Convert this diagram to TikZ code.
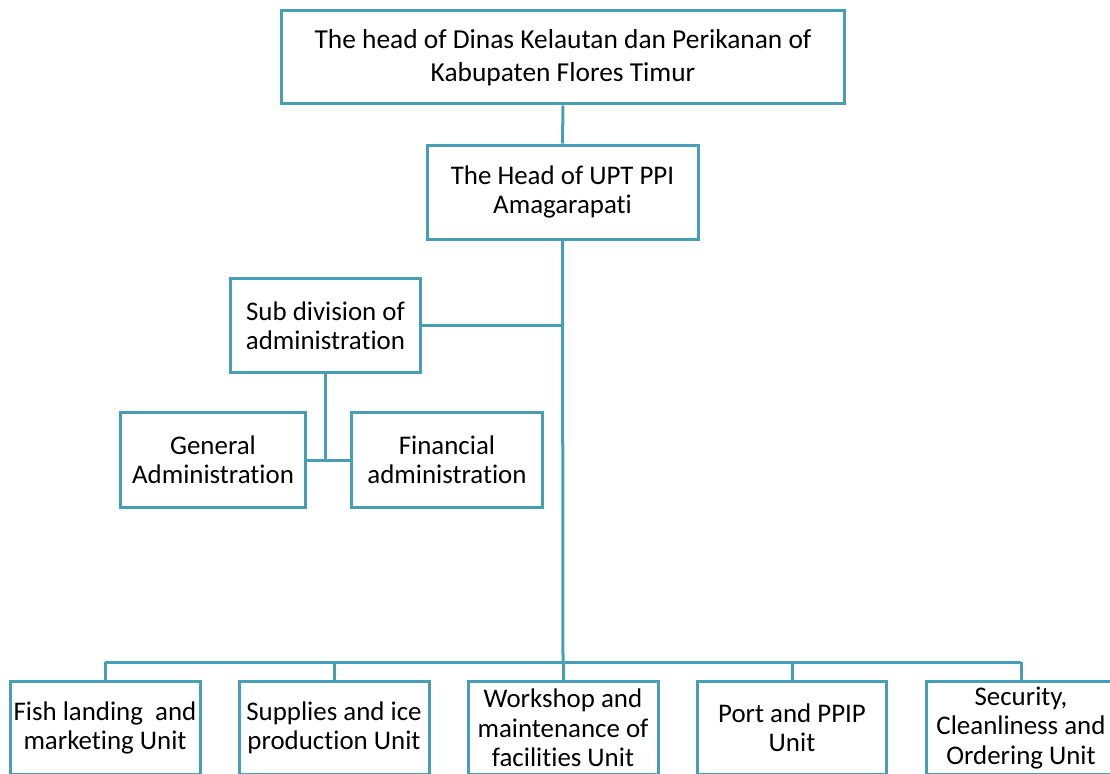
\documentclass[tikz,border=0pt]{standalone}
\usepackage{fontspec}
\setmainfont{Carlito}[Ligatures=NoCommon]
\definecolor{teal1}{RGB}{72,158,181}
\begin{document}
\begin{tikzpicture}[x=1pt,y=-1pt,
  box/.style={draw=teal1,line width=3pt,fill=white,align=center,inner sep=0pt,
    font=\fontsize{26.9}{29.3}\selectfont,text=black},
  conn/.style={draw=teal1,line width=3pt}]
\clip (0,0) rectangle (1110,773);
\fill[white] (0,0) rectangle (1110,773);
\node[box,minimum width=563pt,minimum height=93pt,font=\fontsize{27.4}{32.6}\selectfont] (top) at (563,57.5) {The head of Dinas Kelautan dan Perikanan of\\Kabupaten Flores Timur};
\node[box,minimum width=271pt,minimum height=94pt] (head) at (562.5,192) {The Head of UPT PPI\\Amagarapati};
\node[box,minimum width=190pt,minimum height=94pt] (sub) at (325.5,325.5) {Sub division of\\administration};
\node[box,minimum width=185pt,minimum height=95pt] (gen) at (213,460) {General\\Administration};
\node[box,minimum width=191pt,minimum height=95pt] (fin) at (447,460) {Financial\\administration};
\node[box,minimum width=190pt,minimum height=93pt] (b1) at (105,728) {Fish landing \ and\\marketing Unit};
\node[box,minimum width=190pt,minimum height=93pt] (b2) at (334,728) {Supplies and ice\\production Unit};
\node[box,minimum width=190pt,minimum height=93pt] (b3) at (563,728) {Workshop and\\maintenance of\\facilities Unit};
\node[box,minimum width=189pt,minimum height=93pt] (b4) at (792,728) {Port and PPIP\\Unit};
\node[box,minimum width=190pt,minimum height=93pt] (b5) at (1021,728) {Security,\\Cleanliness and\\Ordering Unit};
\coordinate (bus) at (563,662);
\draw[conn] (top.south) -- (head.north);
\draw[conn] (head.south) -- (bus);
\draw[conn] (sub.east) -- (head.south |- sub.east);
\draw[conn] (sub.south) -- (sub.south |- gen.east);
\draw[conn] (gen.east) -- (fin.west);
\draw[conn] (b1.north |- bus) -- (b5.north |- bus);
\draw[conn] (b1.north) -- (b1.north |- bus);
\draw[conn] (b2.north) -- (b2.north |- bus);
\draw[conn] (b3.north) -- (b3.north |- bus);
\draw[conn] (b4.north) -- (b4.north |- bus);
\draw[conn] (b5.north) -- (b5.north |- bus);
\end{tikzpicture}
\end{document}
